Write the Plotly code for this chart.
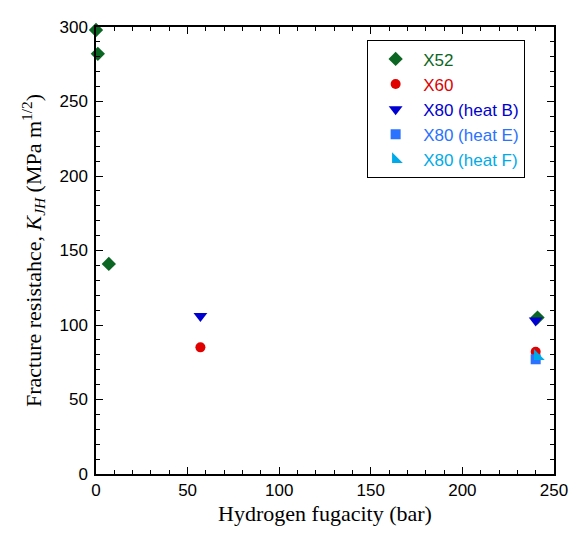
import plotly.graph_objects as go

# Data
x52_x = [0, 1, 7, 241]
x52_y = [298, 282, 141, 105]
x60_x = [57, 240]
x60_y = [85, 82]
x80b_x = [57, 240]
x80b_y = [106, 103]
x80e_x = [240]
x80e_y = [77]
x80f_x = [241]
x80f_y = [79]

series = [
    ("X52", x52_x, x52_y, "diamond", "#0b6623", 11),
    ("X60", x60_x, x60_y, "circle", "#e00000", 10),
    ("X80 (heat B)", x80b_x, x80b_y, "triangle-down", "#0000d0", 12),
    ("X80 (heat E)", x80e_x, x80e_y, "square", "#2a72ff", 10),
    ("X80 (heat F)", x80f_x, x80f_y, "triangle-sw", "#00aae8", 12),
]

fig = go.Figure()
for name, xs, ys, sym, col, sz in series:
    fig.add_trace(go.Scatter(
        x=xs, y=ys, mode="markers", cliponaxis=False,
        name=f"<span style='color:{col}'>{name}</span>",
        marker=dict(symbol=sym, color=col, size=sz, line=dict(width=0)),
    ))

tick_font = dict(family="Liberation Sans, Arial", size=17, color="black")
xtitle_font = dict(family="Liberation Serif, Times New Roman", size=22, color="black")
ytitle_font = dict(family="Liberation Serif, Times New Roman", size=22, color="black")

# the page body has an 8px margin; compensate in the figure margins
fig.update_layout(
    width=580, height=535,
    margin=dict(l=88, r=34, t=10, b=69),
    plot_bgcolor="white", paper_bgcolor="white",
    showlegend=True,
    legend=dict(
        x=0.592, y=0.970, xanchor="left", yanchor="top",
        bordercolor="black", borderwidth=1, bgcolor="white",
        font=dict(family="Liberation Sans, Arial", size=17),
        itemwidth=45,
    ),
    xaxis=dict(
        range=[0, 250], tickvals=[0, 50, 100, 150, 200, 250],
        ticks="inside", ticklen=7, tickwidth=1, tickcolor="black",
        minor=dict(ticks="inside", ticklen=4, dtick=10, tickcolor="black"),
        showline=True, linecolor="black", linewidth=1.5, mirror="ticks",
        showgrid=False, zeroline=False, tickfont=tick_font,
        title=dict(text="Hydrogen fugacity (bar)", font=xtitle_font, standoff=6),
    ),
    yaxis=dict(
        range=[0, 300], tickvals=[0, 50, 100, 150, 200, 250, 300],
        ticks="inside", ticklen=7, tickwidth=1, tickcolor="black",
        minor=dict(ticks="inside", ticklen=4, dtick=10, tickcolor="black"),
        showline=True, linecolor="black", linewidth=1.5, mirror="ticks",
        showgrid=False, zeroline=False, tickfont=tick_font,
        ticklabelstandoff=3,
        title=dict(text="Fracture resistahce, <i>K</i><sub><i>JH</i></sub> (MPa m<sup>1/2</sup>)",
                   font=ytitle_font, standoff=12),
    ),
)

fig.write_html("out.html")
